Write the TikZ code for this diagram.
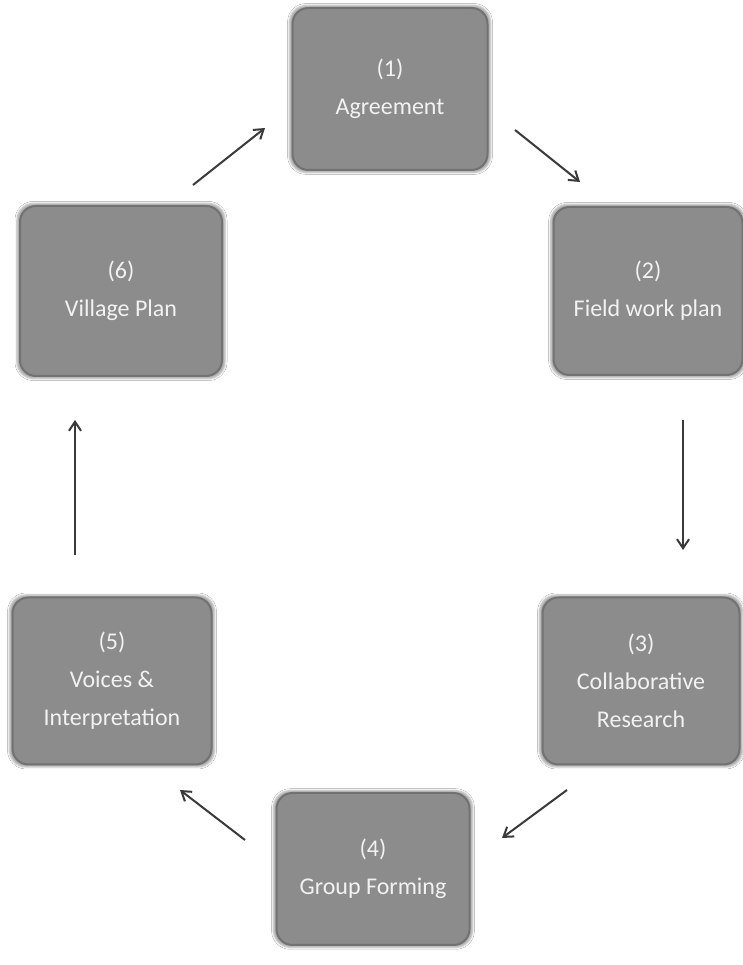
\documentclass[tikz,border=0pt]{standalone}
\usepackage{fontspec}
\setmainfont{Carlito}
\usetikzlibrary{arrows.meta,shadows.blur}
\begin{document}
\begin{tikzpicture}[x=1pt,y=1pt,
  stage/.style={rectangle, rounded corners=16pt, fill=boxgray, draw=boxedge, line width=2pt,
    inner sep=0pt, align=center, text=boxtext, font=\fontsize{24}{38}\selectfont,
    blur shadow={shadow xshift=0pt, shadow yshift=0pt, shadow scale=1.03, shadow opacity=35}},
  flow/.style={draw=arrowgray, line width=2pt, -{Straight Barb[length=9pt,width=12pt,line width=2pt]}}]
\definecolor{boxgray}{HTML}{8C8C8C}
\definecolor{boxedge}{HTML}{727272}
\definecolor{boxtext}{HTML}{F2F2F2}
\definecolor{arrowgray}{HTML}{3A3A3A}
\useasboundingbox (0,0) rectangle (743,965);
\fill[white] (0,0) rectangle (743,965);

\node[stage, minimum width=195pt, minimum height=162pt] (s1) at (390,876) {(1)\\Agreement};
\node[stage, minimum width=189pt, minimum height=168pt] (s2) at (648,674) {(2)\\Field work plan};
\node[stage, minimum width=197pt, minimum height=167pt] (s3) at (641,284) {(3)\\Collaborative\\Research};
\node[stage, minimum width=193pt, minimum height=152pt] (s4) at (373,96) {(4)\\Group Forming};
\node[stage, minimum width=199pt, minimum height=167pt] (s5) at (112,284) {(5)\\Voices \&\\Interpretation};
\node[stage, minimum width=202pt, minimum height=170pt] (s6) at (121,674) {(6)\\Village Plan};

\coordinate (a12) at (515,835);
\coordinate (b12) at (580,783);
\coordinate (a23) at (683,545);
\coordinate (b23) at (683,415);
\coordinate (a34) at (567,175);
\coordinate (b34) at (502,127);
\coordinate (a45) at (245,125);
\coordinate (b45) at (180,175);
\coordinate (a56) at (75,410);
\coordinate (b56) at (75,545);
\coordinate (a61) at (193,780);
\coordinate (b61) at (265,837);

\draw[flow] (a12) -- (b12);
\draw[flow] (a23) -- (b23);
\draw[flow] (a34) -- (b34);
\draw[flow] (a45) -- (b45);
\draw[flow] (a56) -- (b56);
\draw[flow] (a61) -- (b61);
\end{tikzpicture}
\end{document}
